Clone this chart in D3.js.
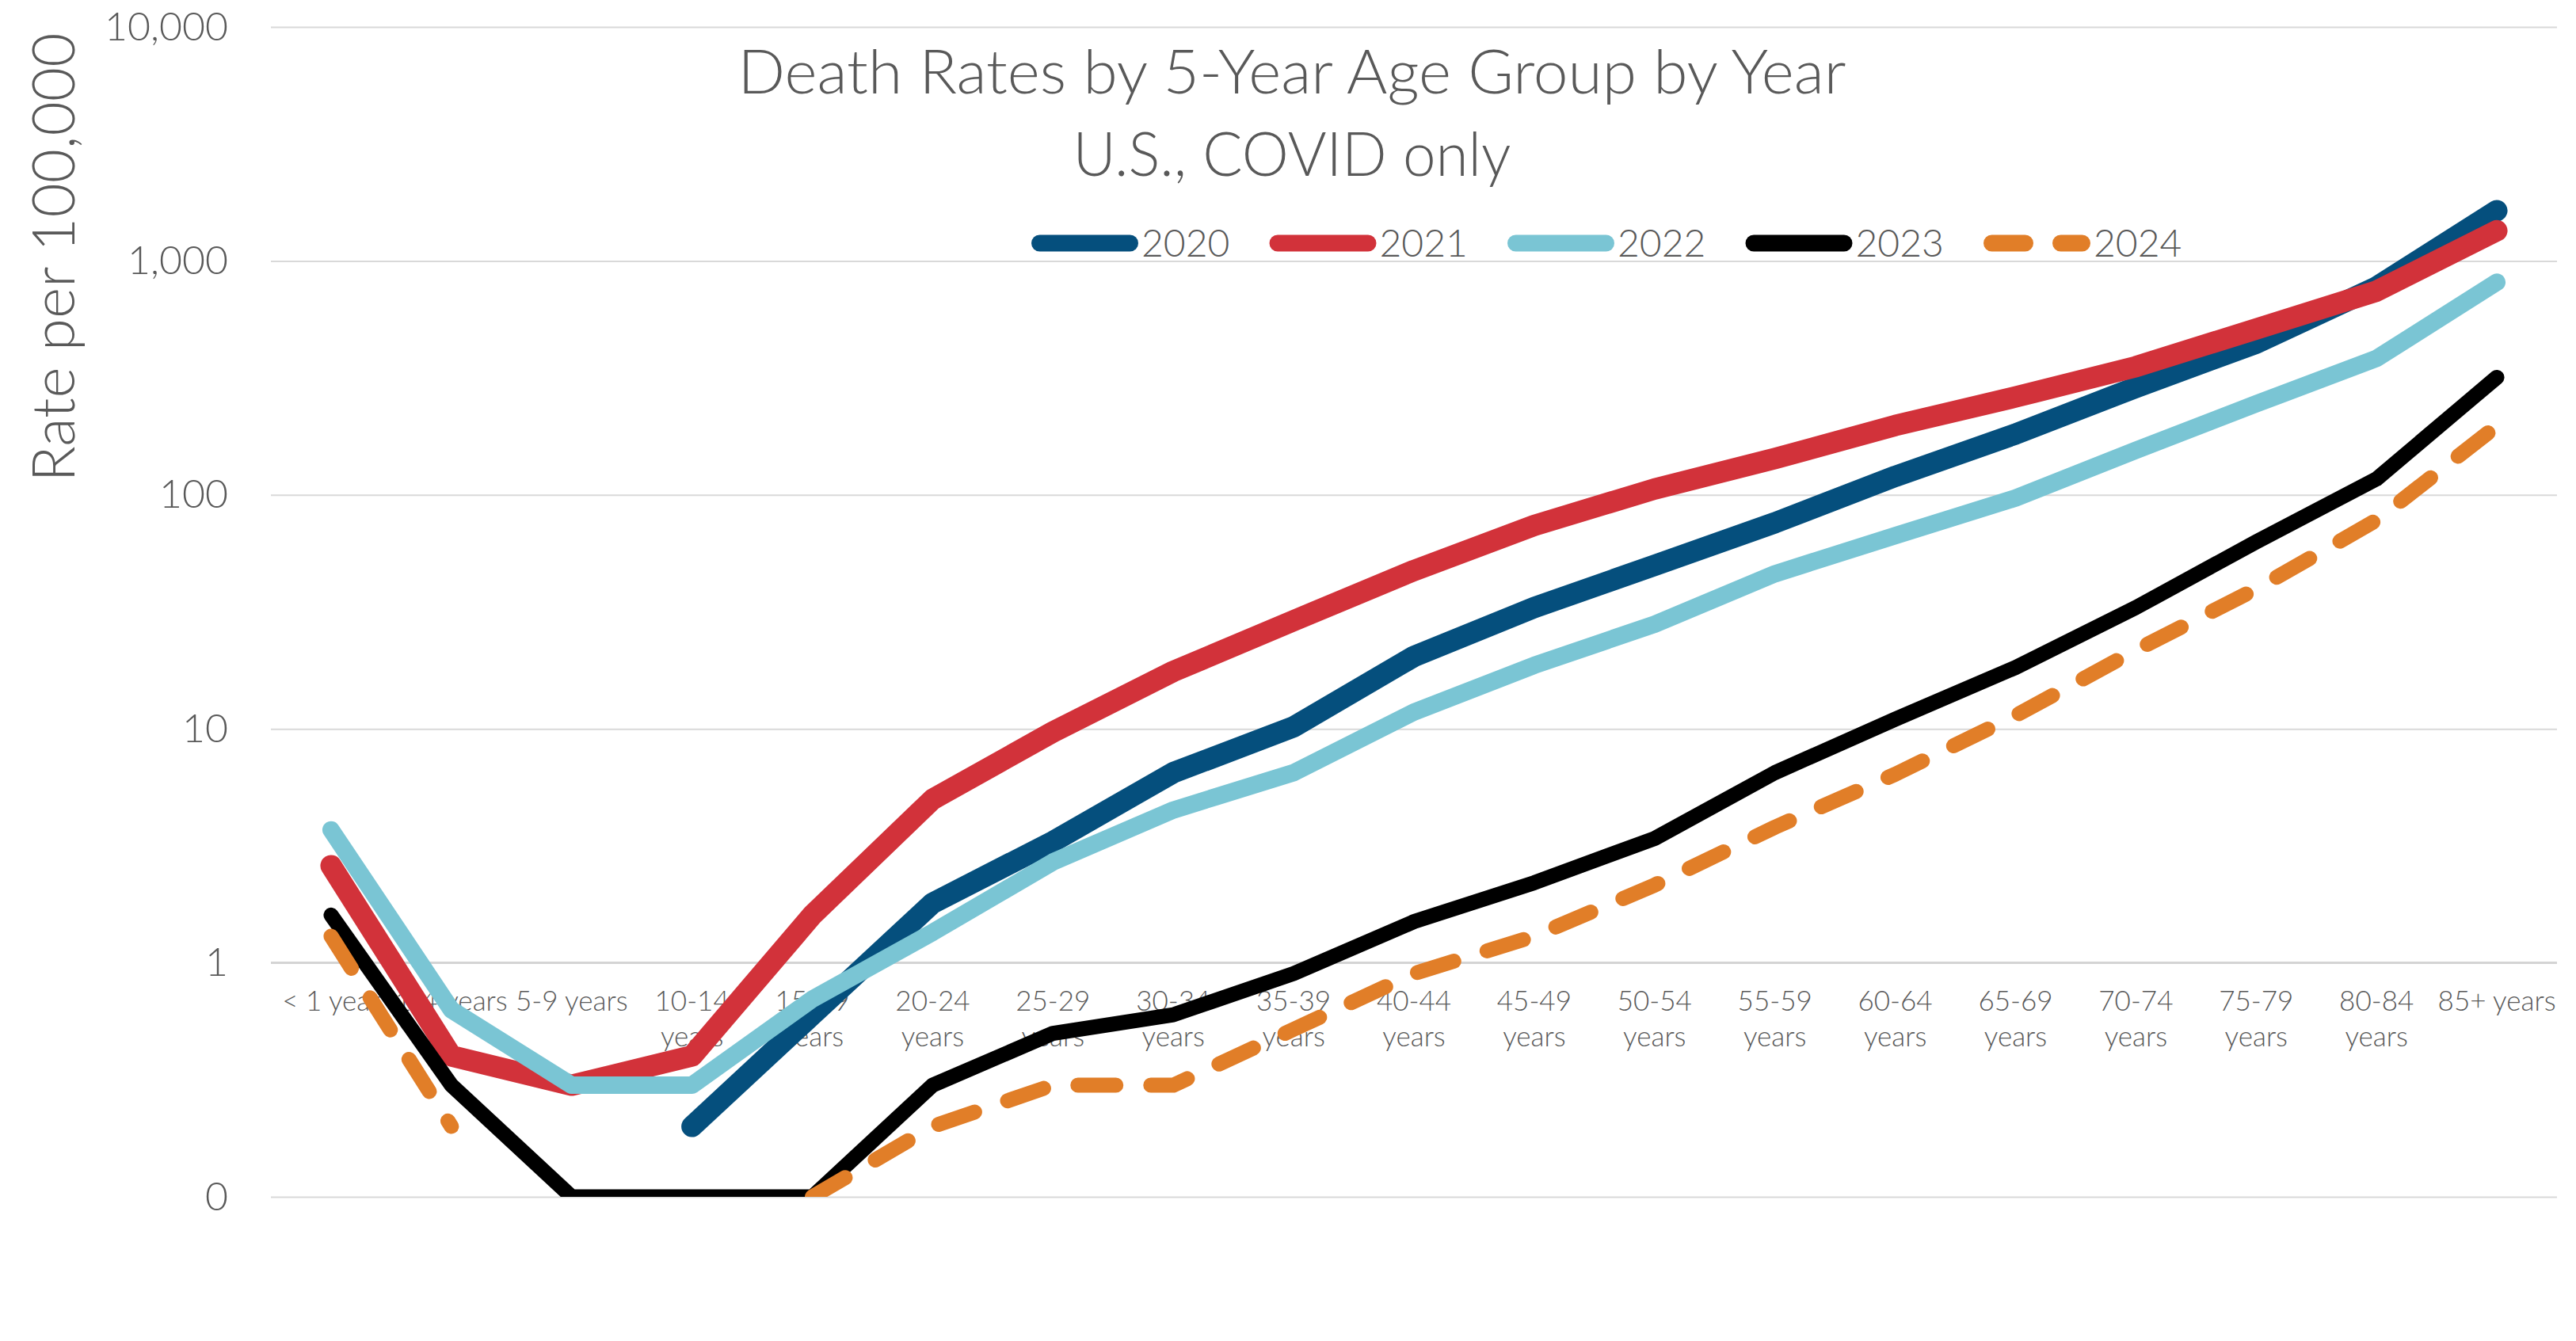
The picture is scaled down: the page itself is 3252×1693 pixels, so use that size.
<!DOCTYPE html>
<html><head><meta charset="utf-8">
<script src="https://cdn.jsdelivr.net/npm/d3@7"></script>
<style>
html,body{margin:0;padding:0;background:#fff;}
svg{display:block;}
text{font-family:Lato,"Open Sans","Noto Sans",sans-serif;font-weight:300;fill:#595959;}
</style></head><body>
<svg id="chart" width="3252" height="1693"></svg>
<script>
// ---------- DATA ----------
const categories = ["< 1 year","1-4 years","5-9 years","10-14 years","15-19 years","20-24 years","25-29 years","30-34 years","35-39 years","40-44 years","45-49 years","50-54 years","55-59 years","60-64 years","65-69 years","70-74 years","75-79 years","80-84 years","85+ years"];
const years = ["2020","2021","2022","2023","2024"];
const rate2020 = [null, null, null, 0.2, 0.6, 1.8, 3.3, 6.5, 10.2, 20.4, 33, 50, 76, 120, 182, 288, 445, 773, 1640];
const rate2021 = [2.6, 0.4, 0.3, 0.4, 1.6, 5.0, 9.7, 17.6, 29, 47.5, 74, 106, 143, 198, 262, 353, 512, 743, 1346];
const rate2022 = [3.7, 0.63, 0.3, 0.3, 0.7, 1.35, 2.7, 4.5, 6.5, 11.8, 18.7, 28, 46, 67, 97, 155, 245, 383, 811];
const rate2023 = [1.6, 0.3, 0.1, 0.1, 0.1, 0.3, 0.5, 0.6, 0.9, 1.5, 2.2, 3.4, 6.5, 11, 18.3, 33, 63, 117, 318];
const rate2024 = [1.3, 0.2, null, null, 0.1, 0.2, 0.3, 0.3, 0.52, 0.9, 1.3, 2.15, 3.8, 6.4, 11.4, 21.7, 39.6, 78, 197];
const yTickValues = [0.1, 1, 10, 100, 1000, 10000];
const yTickLabels = ["0", "1", "10", "100", "1,000", "10,000"];
const titleLines = ["Death Rates by 5-Year Age Group by Year", "U.S., COVID only"];
const yAxisTitle = "Rate per 100,000";

// ---------- STYLE ----------
const seriesValues = [rate2020, rate2021, rate2022, rate2023, rate2024];
const colors = ["#054f7d", "#d2323a", "#7ac5d4", "#000000", "#e17e28"];
const widths = [27, 27, 22, 19, 19];
const dashes = [null, null, null, null, "48,44"];

const W = 3252, H = 1693;
const plot = {left: 342, right: 3228, top: 34, bottom: 1511};
const svg = d3.select("#chart");

const x = d3.scaleBand().domain(categories).range([plot.left, plot.right]);
const bw = x.bandwidth();
const y = d3.scaleLog().domain([0.1, 10000]).range([plot.bottom, plot.top]);

// gridlines + y tick labels
const yAxis = d3.axisLeft(y)
  .tickValues(yTickValues)
  .tickFormat((d, i) => yTickLabels[i])
  .tickSize(-(plot.right - plot.left))
  .tickPadding(54);
const gy = svg.append("g").attr("transform", `translate(${plot.left},0)`).call(yAxis);
gy.select(".domain").remove();
gy.selectAll(".tick line").attr("stroke", "#d9d9d9").attr("stroke-width", 2);
gy.selectAll(".tick text").attr("font-size", 50).attr("fill", "#595959")
  .style("font-family", "Lato, 'Open Sans', sans-serif").style("font-weight", 300);

// category axis line (crosses at 1)
svg.append("line")
  .attr("x1", plot.left).attr("x2", plot.right)
  .attr("y1", y(1)).attr("y2", y(1))
  .attr("stroke", "#d4d4d4").attr("stroke-width", 3);

// category labels
const xl = svg.append("g");
categories.forEach(c => {
  const cx = x(c) + bw / 2;
  const lines = c.length > 9 ? [c.slice(0, c.indexOf(" ")), c.slice(c.indexOf(" ") + 1)] : [c];
  const t = xl.append("text").attr("text-anchor", "middle").attr("font-size", 35);
  lines.forEach((ln, i) => {
    t.append("tspan").attr("x", cx).attr("y", y(1) + 60 + i * 45).text(ln);
  });
});

// clip
svg.append("defs").append("clipPath").attr("id", "plotclip")
  .append("rect").attr("x", 0).attr("y", 0).attr("width", W).attr("height", plot.bottom);

const line = d3.line()
  .defined(d => d != null)
  .x((d, i) => x(categories[i]) + bw / 2)
  .y(d => y(d));

const gl = svg.append("g").attr("clip-path", "url(#plotclip)");
seriesValues.forEach((vals, k) => {
  const p = gl.append("path")
    .attr("d", line(vals))
    .attr("fill", "none")
    .attr("stroke", colors[k])
    .attr("stroke-width", widths[k])
    .attr("stroke-linecap", "round")
    .attr("stroke-linejoin", "round");
  if (dashes[k]) p.attr("stroke-dasharray", dashes[k]);
});

// title
titleLines.forEach((tl, i) => {
  svg.append("text")
    .attr("x", 1631).attr("y", 118 + i * 104)
    .attr("text-anchor", "middle")
    .attr("font-size", 77)
    .attr("textLength", i === 0 ? 1399 : 553)
    .attr("lengthAdjust", "spacingAndGlyphs")
    .text(tl);
});

// y axis title
svg.append("text")
  .attr("transform", "translate(94,325) rotate(-90)")
  .attr("text-anchor", "middle")
  .attr("font-size", 75)
  .attr("textLength", 567)
  .attr("lengthAdjust", "spacingAndGlyphs")
  .text(yAxisTitle);

// legend
const legY = 307;
years.forEach((yr, k) => {
  const g = svg.append("g").attr("transform", `translate(${1302 + k * 300.5},${legY})`);
  const ln = g.append("line")
    .attr("x1", 10.5).attr("x2", 124.5).attr("y1", 0).attr("y2", 0)
    .attr("stroke", colors[k]).attr("stroke-width", 21)
    .attr("stroke-linecap", "round");
  if (dashes[k]) ln.attr("stroke-dasharray", "42,45");
  g.append("text").attr("x", 139).attr("y", 0).attr("dy", "0.36em")
    .attr("font-size", 48).text(yr);
});
</script>
</body></html>
